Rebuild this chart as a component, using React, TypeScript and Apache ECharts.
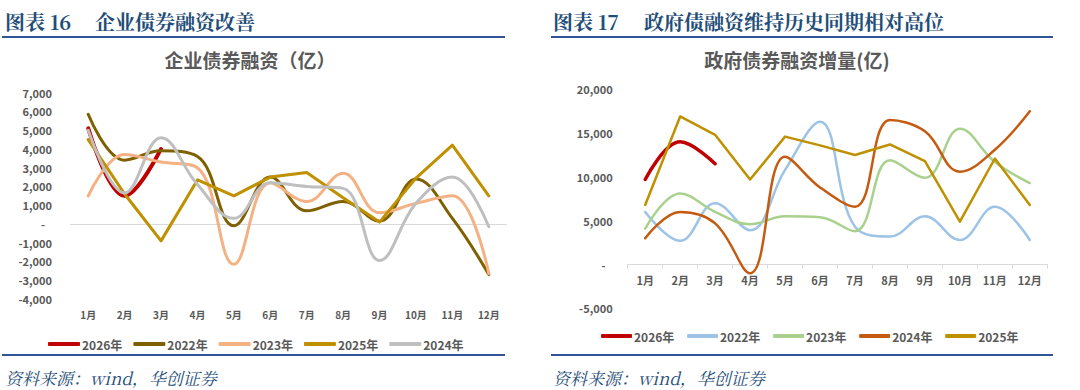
import React, { useEffect, useRef } from 'react';
import * as echarts from 'echarts';

const months = ['1月', '2月', '3月', '4月', '5月', '6月', '7月', '8月', '9月', '10月', '11月', '12月'];

// Left chart: 企业债券融资（亿）
const corpLegend = ['2026年', '2022年', '2023年', '2025年', '2024年'];
const corp2026 = [5100, 1500, 4000];
const corp2022 = [5850, 3400, 3900, 3600, -100, 2500, 700, 1200, 150, 2400, 300, -2700];
const corp2023 = [1500, 3700, 3300, 3000, -2150, 2200, 1200, 2700, 600, 1100, 1500, -2650];
const corp2025 = [4500, 1600, -900, 2350, 1500, 2500, 2750, 1400, 100, 2450, 4200, 1500];
const corp2024 = [5000, 1650, 4600, 2100, 300, 2200, 2000, 1900, -1950, 1100, 2500, -150];
const corpTicks = [-4000, -3000, -2000, -1000, 0, 1000, 2000, 3000, 4000, 5000, 6000, 7000];

// Right chart: 政府债券融资增量(亿)
const govLegend = ['2026年', '2022年', '2023年', '2024年', '2025年'];
const gov2026 = [9700, 14000, 11500];
const gov2022 = [6000, 2700, 7000, 3900, 10800, 16300, 4300, 3200, 5500, 2800, 6600, 2800];
const gov2023 = [4100, 8100, 6000, 4600, 5500, 5400, 3800, 11900, 9900, 15500, 11700, 9300];
const gov2024 = [3000, 6000, 4700, -1000, 12300, 8800, 6600, 16500, 15200, 10600, 13100, 17500];
const gov2025 = [6800, 16900, 14800, 9700, 14600, 13600, 12500, 13700, 11800, 4900, 12100, 6800];
const govTicks = [-5000, 0, 5000, 10000, 15000, 20000];

const BLUE = '#1f4e79';
const GRAY = '#595959';
const SANS = "'Noto Sans CJK SC', 'Microsoft YaHei', sans-serif";
const SERIF = "'Noto Serif CJK SC', 'Songti SC', 'Liberation Serif', serif";

const fmt = (v: number) => (v === 0 ? '{z|-}' : v.toLocaleString('en-US'));

export default function App() {
  const ref = useRef<HTMLDivElement>(null);
  useEffect(() => {
    if (!ref.current) return;
    const chart = echarts.init(ref.current, undefined, { renderer: 'svg' });

    const yLabel = {
      color: GRAY,
      fontSize: 11,
      fontWeight: 'bold' as const,
      fontFamily: SANS,
      formatter: fmt,
      rich: { z: { color: GRAY, fontSize: 11, fontWeight: 'bold', fontFamily: SANS, padding: [0, 7, 0, 0] } },
    };

    const line = (name: string, data: number[], color: string, width: number, smooth: boolean | number, grid: number, extra: any = {}) => ({
      type: 'line',
      name,
      data,
      xAxisIndex: grid,
      yAxisIndex: grid,
      symbol: 'none',
      smooth,
      lineStyle: { color, width, cap: 'round', join: 'round' },
      itemStyle: { color },
      ...extra,
    });

    const headerText = (text: string, x: number, y: number, size: number, font: string, color: string, align = 'left', weight = 'bold', style = 'normal') => ({
      type: 'text',
      style: {
        text,
        x,
        y,
        fill: color,
        font: `${style} ${weight} ${size}px ${font}`,
        align,
        textAlign: align,
        verticalAlign: 'middle',
        textVerticalAlign: 'middle',
      },
    });

    // distance (px) between the bottom of the right grid and its zero line
    const govZeroOffset = 219 * (0 - govTicks[0]) / (govTicks[govTicks.length - 1] - govTicks[0]);

    const option: any = {
      animation: false,
      backgroundColor: '#ffffff',
      graphic: [
        headerText('图表 16', 5, 21, 20, SERIF, BLUE),
        headerText('企业债券融资改善', 95, 21, 20, SERIF, BLUE),
        { type: 'rect', shape: { x: 2, y: 36, width: 503, height: 2 }, style: { fill: '#2f5597' } },
        headerText('企业债券融资（亿）', 250, 59, 19, SANS, GRAY, 'center'),
        { type: 'rect', shape: { x: 2, y: 354, width: 503, height: 2 }, style: { fill: '#2f5597' } },
        headerText('资料来源：wind，华创证券', 5, 377, 17, SERIF, BLUE, 'left', 'normal', 'italic'),

        headerText('图表 17', 553, 21, 20, SERIF, BLUE),
        headerText('政府债融资维持历史同期相对高位', 644, 21, 20, SERIF, BLUE),
        { type: 'rect', shape: { x: 551, y: 36, width: 502, height: 2 }, style: { fill: '#2f5597' } },
        headerText('政府债券融资增量(亿)', 797, 59, 19, SANS, GRAY, 'center'),
        { type: 'rect', shape: { x: 551, y: 354, width: 502, height: 2 }, style: { fill: '#2f5597' } },
        headerText('资料来源：wind，华创证券', 553, 377, 17, SERIF, BLUE, 'left', 'normal', 'italic'),
      ],
      legend: [
        {
          data: corpLegend,
          left: 43,
          top: 333,
          icon: 'roundRect',
          itemWidth: 32,
          itemHeight: 4,
          itemGap: 11,
          textStyle: { color: GRAY, fontSize: 12, fontWeight: 'bold', fontFamily: SANS, padding: [0, 0, 0, -3] },
        },
        {
          data: govLegend.map((n) => ({ name: n + ' ' })),
          left: 596,
          top: 325,
          icon: 'roundRect',
          itemWidth: 31,
          itemHeight: 4,
          itemGap: 10,
          textStyle: { color: GRAY, fontSize: 12, fontWeight: 'bold', fontFamily: SANS, padding: [0, 0, 0, -3] },
        },
      ],
      grid: [
        { left: 70, top: 92.7, width: 437, height: 206.3 },
        { left: 627.7, top: 89.3, width: 419.6, height: 219 },
      ],
      xAxis: [
        {
          gridIndex: 0,
          type: 'category',
          data: months,
          boundaryGap: true,
          axisLine: { show: false, onZero: false },
          axisTick: { show: false },
          axisLabel: { color: GRAY, fontSize: 10, fontWeight: 'bold', fontFamily: SANS, margin: 10 },
        },
        {
          gridIndex: 1,
          type: 'category',
          data: months,
          boundaryGap: true,
          position: 'bottom',
          offset: -govZeroOffset,
          axisLine: { show: true, onZero: false, lineStyle: { color: '#d9d9d9', width: 1 } },
          axisTick: { show: true, length: 4, lineStyle: { color: '#d9d9d9' } },
          axisLabel: { color: GRAY, fontSize: 11, fontWeight: 'bold', fontFamily: SANS, margin: 10 },
        },
      ],
      yAxis: [
        {
          gridIndex: 0,
          type: 'value',
          min: corpTicks[0],
          max: corpTicks[corpTicks.length - 1],
          interval: corpTicks[1] - corpTicks[0],
          splitLine: { show: false },
          axisLine: { show: false },
          axisTick: { show: false },
          axisLabel: { ...yLabel, margin: 18 },
        },
        {
          gridIndex: 1,
          type: 'value',
          min: govTicks[0],
          max: govTicks[govTicks.length - 1],
          interval: govTicks[1] - govTicks[0],
          splitLine: { show: false },
          axisLine: { show: false },
          axisTick: { show: false },
          axisLabel: { ...yLabel, margin: 15 },
        },
      ],
      series: [
        line(corpLegend[0], corp2026, '#c00000', 4, 0.4, 0, {
          markLine: {
            silent: true,
            symbol: ['none', 'none'],
            label: { show: false },
            lineStyle: { color: '#d9d9d9', width: 1, type: 'solid' },
            data: [{ yAxis: 0 }],
            z: 1,
          },
        }),
        line(corpLegend[1], corp2022, '#7f6000', 3, 0.4, 0),
        line(corpLegend[2], corp2023, '#f4b183', 3, 0.4, 0),
        line(corpLegend[3], corp2025, '#bf9000', 3, false, 0),
        line(corpLegend[4], corp2024, '#bfbfbf', 3, 0.4, 0),

        line(govLegend[0] + ' ', gov2026, '#c00000', 3.5, 0.4, 1),
        line(govLegend[1] + ' ', gov2022, '#9dc3e6', 2.5, 0.4, 1),
        line(govLegend[2] + ' ', gov2023, '#a9d18e', 2.5, 0.4, 1),
        line(govLegend[3] + ' ', gov2024, '#c55a11', 2.5, 0.4, 1),
        line(govLegend[4] + ' ', gov2025, '#bf9000', 2.5, false, 1),
      ],
    };

    chart.setOption(option);
    return () => chart.dispose();
  }, []);

  return (
    <div
      ref={ref}
      style={{ position: 'absolute', left: 0, top: 0, width: 1080, height: 390, background: '#fff' }}
    />
  );
}
